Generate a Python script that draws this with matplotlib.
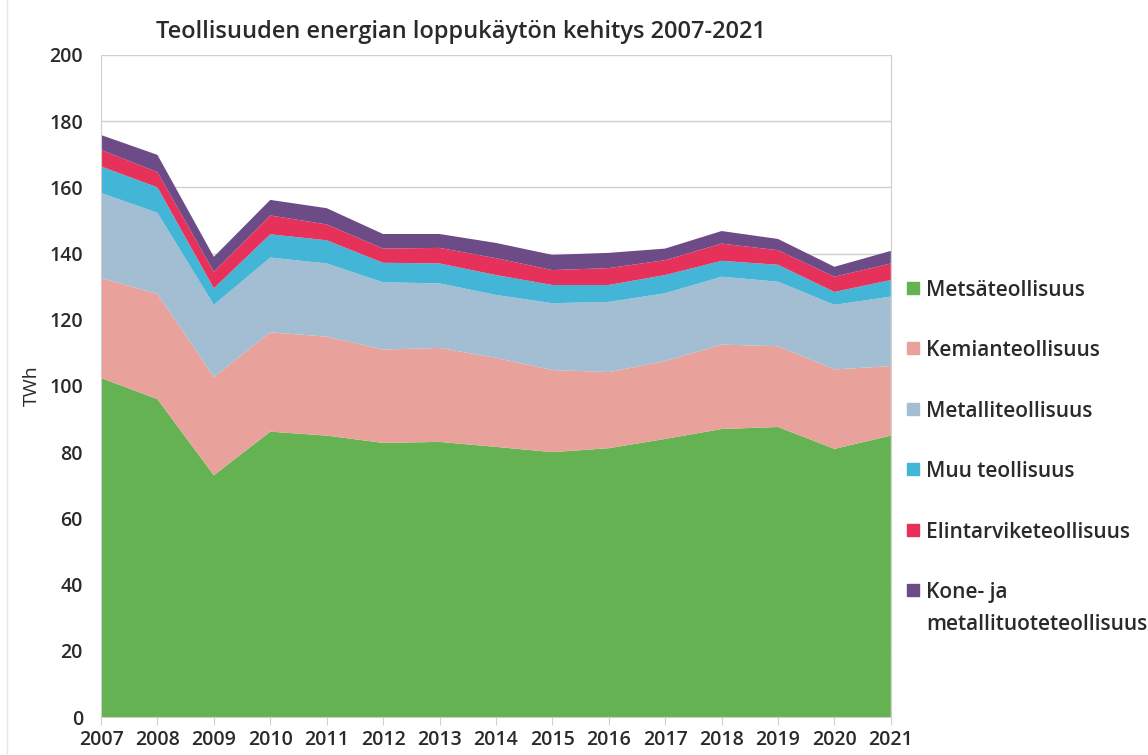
import matplotlib.pyplot as plt
import matplotlib.patches as mpatches
from matplotlib.lines import Line2D

# DATA -----------------------------------------------------------------------------------------------------------------
years = list(range(2007, 2022))

metsa = [102.4, 96.0, 73.0, 86.2, 85.0, 82.8, 83.1, 81.6, 80.0, 81.2, 84.0, 87.0, 87.6, 81.0, 85.0]
kemia = [30.2, 31.8, 29.7, 30.0, 29.9, 28.2, 28.4, 26.9, 24.8, 23.0, 23.5, 25.5, 24.4, 24.0, 21.0]
metalli = [25.7, 24.5, 21.8, 22.6, 22.1, 20.3, 19.5, 19.0, 20.2, 21.2, 20.5, 20.5, 19.5, 19.5, 21.0]
muu = [8.0, 7.7, 5.0, 7.0, 7.0, 5.9, 6.0, 6.0, 5.5, 5.1, 5.5, 4.8, 5.1, 3.9, 5.0]
elin = [5.0, 4.6, 5.0, 5.7, 4.8, 4.3, 4.7, 5.1, 4.5, 5.1, 4.5, 5.2, 4.4, 4.6, 5.0]
kone = [4.5, 5.2, 4.5, 4.7, 4.9, 4.4, 4.2, 4.6, 4.6, 4.6, 3.5, 3.8, 3.4, 3.0, 3.8]

labels = ['Metsäteollisuus', 'Kemianteollisuus', 'Metalliteollisuus', 'Muu teollisuus',
          'Elintarviketeollisuus', 'Kone- ja\nmetallituoteteollisuus']
colors = ['#64b251', '#e9a29b', '#a3bdd2', '#43b5d6', '#e6325a', '#6d4b87']

plt.rcParams['font.family'] = ['Open Sans', 'DejaVu Sans']
text_color = '#2a2a2a'

# FIGURE ---------------------------------------------------------------------------------------------------------------
W, H = 1148, 755
fig = plt.figure(figsize=(W / 100, H / 100), dpi=100)
ax = fig.add_axes([0.088, 0.0503, 0.688, 0.877])

ax.stackplot(years, metsa, kemia, metalli, muu, elin, kone, colors=colors, linewidth=0, zorder=2)

ax.set_xlim(2007, 2021)
ax.set_ylim(0, 200)
ax.set_yticks(range(0, 201, 20))
ax.set_xticks(years)
ax.grid(axis='y', color='#cfcfcf', linewidth=1, zorder=0)
ax.set_axisbelow(True)

ax.spines['top'].set_visible(False)
for side in ['left', 'right', 'bottom']:
    ax.spines[side].set_color('#cfcfcf')

ax.tick_params(axis='x', length=6, color='#cfcfcf', labelsize=14, labelcolor=text_color, pad=3)
ax.tick_params(axis='y', length=0, labelsize=14, labelcolor=text_color, pad=13)
for lab in ax.get_xticklabels() + ax.get_yticklabels():
    lab.set_fontweight('semibold')

ax.set_ylabel('TWh', fontsize=14, color=text_color, labelpad=6)
ax.set_title('Teollisuuden energian loppukäytön kehitys 2007-2021', fontsize=17,
             color=text_color, fontweight='semibold', pad=12, x=0.456)

# legend (drawn by hand so the two-line label keeps its square on the first line)
for i, (c, lab) in enumerate(zip(colors, labels)):
    yc = 288 + i * 60.4
    fig.add_artist(mpatches.Rectangle((907 / W, 1 - (yc + 6) / H), 12 / W, 12 / H,
                                      color=c, transform=fig.transFigure))
    for j, line in enumerate(lab.split('\n')):
        fig.text(926 / W, 1 - (yc + j * 32) / H, line, fontsize=15, fontweight='semibold',
                 color=text_color, va='center_baseline', ha='left')

# faint outer frame line on the left
fig.add_artist(Line2D([7 / W, 7 / W], [0, 1], color='#e6e6e6', linewidth=1, transform=fig.transFigure))

plt.savefig('out.png', dpi=100, facecolor='white')
